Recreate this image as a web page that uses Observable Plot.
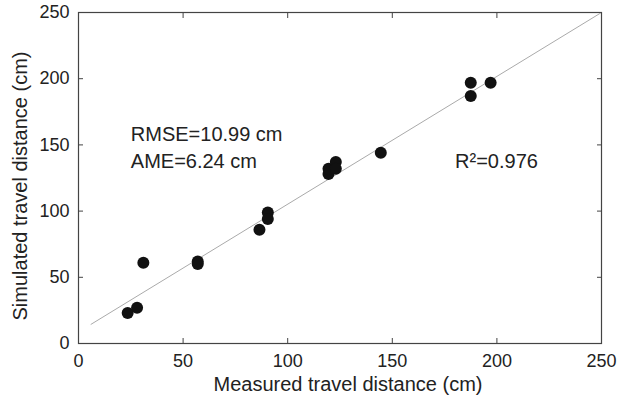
<!DOCTYPE html>
<html>
<head>
<meta charset="utf-8">
<script src="https://cdn.jsdelivr.net/npm/d3@7"></script>
<script src="https://cdn.jsdelivr.net/npm/@observablehq/plot@0.6"></script>
<style>
  html, body { margin: 0; padding: 0; background: #fff; }
  svg { font-family: "Liberation Sans", Arial, sans-serif; }
</style>
</head>
<body>
<div id="chart"></div>
<script>
const measured  = [23.5, 28, 31, 57, 57, 86.5, 90.5, 90.5, 119.5, 119.5, 123, 123, 144.5, 187.5, 187.5, 197];
const simulated = [23, 27, 61, 62, 60, 86, 99, 94, 128, 132, 137, 132, 144, 197, 187, 197];
const fitX = [6, 250];
const fitY = [14.5, 250];
const ticks = [0, 50, 100, 150, 200, 250];
const labels = [
  {x: 25, y: 158, text: "RMSE=10.99 cm"},
  {x: 25, y: 137.5, text: "AME=6.24 cm"},
  {x: 180, y: 137.5, text: "R²=0.976"}
];

const points = measured.map((m, i) => ({m, s: simulated[i]}));
const fit = fitX.map((x, i) => ({x, y: fitY[i]}));

const chart = Plot.plot({
  width: 620,
  height: 400,
  marginLeft: 78,
  marginRight: 19,
  marginTop: 12,
  marginBottom: 57,
  style: {fontFamily: "Liberation Sans, Arial, sans-serif", fontSize: "18px", color: "#222", background: "#fff"},
  x: {domain: [0, 250]},
  y: {domain: [0, 250]},
  marks: [
    Plot.frame({stroke: "#444", strokeWidth: 1.2}),
    Plot.line(fit, {x: "x", y: "y", stroke: "#aaa", strokeWidth: 1}),
    Plot.dot(points, {x: "m", y: "s", r: 6, fill: "#111", stroke: "none"}),
    Plot.axisX(ticks, {anchor: "bottom", tickSize: 0, tickPadding: 11, fontSize: 18, label: null}),
    Plot.axisX(ticks, {anchor: "bottom", tickSize: -5, tickFormat: () => "", label: null, stroke: "#444"}),
    Plot.axisX(ticks, {anchor: "top", tickSize: -5, tickFormat: () => "", label: null, stroke: "#444"}),
    Plot.axisY(ticks, {anchor: "left", tickSize: 0, tickPadding: 9, fontSize: 18, label: null}),
    Plot.axisY(ticks, {anchor: "left", tickSize: -5, tickFormat: () => "", label: null, stroke: "#444"}),
    Plot.axisY(ticks, {anchor: "right", tickSize: -5, tickFormat: () => "", label: null, stroke: "#444"}),
    Plot.text(labels, {x: "x", y: "y", text: "text", textAnchor: "start", fontSize: 20, fill: "#222"}),
    Plot.text(["Measured travel distance (cm)"], {frameAnchor: "bottom", textAnchor: "middle", dx: 8, dy: 47, fontSize: 20, fill: "#222"}),
    Plot.text(["Simulated travel distance (cm)"], {frameAnchor: "left", textAnchor: "middle", dx: -58, dy: 8, rotate: -90, fontSize: 20, fill: "#222"})
  ]
});
document.getElementById("chart").appendChild(chart);
</script>
</body>
</html>
